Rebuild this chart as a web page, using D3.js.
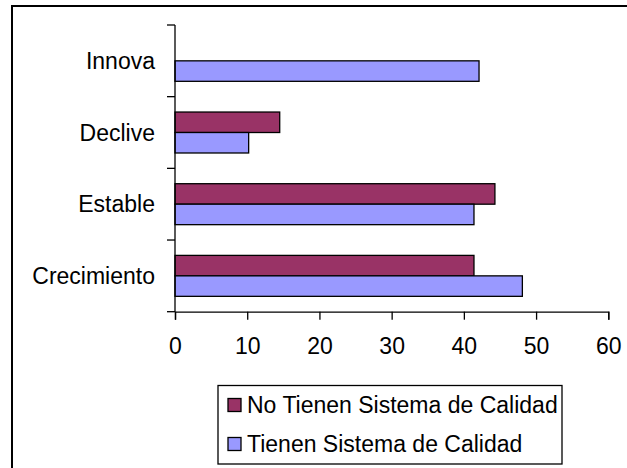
<!DOCTYPE html>
<html><head><meta charset="utf-8">
<script src="https://cdn.jsdelivr.net/npm/d3@7/dist/d3.min.js"></script>
<style>body{margin:0;background:#fff}svg{display:block}text{font-family:"Liberation Sans",Arial,sans-serif}</style>
</head><body>
<script>
const categories = ["Innova", "Declive", "Estable", "Crecimiento"];
const seriesNames = ["No Tienen Sistema de Calidad", "Tienen Sistema de Calidad"];
const noTienen = [0, 14.5, 44.3, 41.4];
const tienen = [42.1, 10.2, 41.4, 48.1];
const xTicks = [0, 10, 20, 30, 40, 50, 60];
const colors = ["#993366", "#9999FF"];

const W = 627, H = 468, FS = 23;
const svg = d3.select("body").append("svg").attr("width", W).attr("height", H);
svg.append("rect").attr("x", 12).attr("y", 6).attr("width", 640).attr("height", 480)
  .attr("fill", "#fff").attr("stroke", "#000").attr("stroke-width", 2);

const x = d3.scaleLinear().domain([0, 60]).range([175, 608.3]);
const y = d3.scaleBand().domain(categories).range([25, 311.7]).paddingInner(0.4286).paddingOuter(0.2143);
const inner = d3.scaleBand().domain([0, 1]).range([0, y.bandwidth()]);

const data = categories.map((c, i) => ({c, v: [noTienen[i], tienen[i]]}));
const g = svg.append("g");
data.forEach(d => {
  d.v.forEach((v, s) => {
    if (v <= 0) return;
    g.append("rect")
      .attr("x", x(0)).attr("y", y(d.c) + inner(s))
      .attr("width", x(v) - x(0)).attr("height", inner.bandwidth())
      .attr("fill", colors[s]).attr("stroke", "#000").attr("stroke-width", 1.3);
  });
});

// y axis
const yAxisG = svg.append("g");
yAxisG.append("line").attr("x1", x(0)).attr("x2", x(0)).attr("y1", 25).attr("y2", 311.7).attr("stroke", "#000").attr("stroke-width", 1.3);
const band = (311.7 - 25) / categories.length;
d3.range(categories.length + 1).forEach(i => {
  const yy = 25 + i * band;
  yAxisG.append("line").attr("x1", x(0) - 8).attr("x2", x(0)).attr("y1", yy).attr("y2", yy).attr("stroke", "#000").attr("stroke-width", 1.3);
});
categories.forEach((c, i) => {
  yAxisG.append("text").attr("x", 155).attr("y", 25 + band * (i + 0.5)).attr("dy", "0.35em")
    .attr("text-anchor", "end").attr("font-size", FS).text(c);
});

// x axis
const xAxis = d3.axisBottom(x).tickValues(xTicks).tickSize(8).tickPadding(18).tickFormat(d3.format("d"));
const xg = svg.append("g").attr("transform", "translate(0,311.7)").call(xAxis);
xg.select(".domain").attr("stroke", "#000").attr("stroke-width", 1.3);
xg.selectAll(".tick line").attr("stroke", "#000").attr("stroke-width", 1.3);
xg.selectAll(".tick text").attr("font-size", FS).attr("font-family", "Liberation Sans, Arial, sans-serif").attr("fill", "#000");

// legend
const lg = svg.append("g");
lg.append("rect").attr("x", 218).attr("y", 385.5).attr("width", 344).attr("height", 78.5)
  .attr("fill", "#fff").attr("stroke", "#000").attr("stroke-width", 1.3);
seriesNames.forEach((n, i) => {
  const cy = 405 + i * 39;
  lg.append("rect").attr("x", 228).attr("y", cy - 6.5).attr("width", 13).attr("height", 13)
    .attr("fill", colors[i]).attr("stroke", "#000").attr("stroke-width", 1.3);
  lg.append("text").attr("x", 247).attr("y", cy).attr("dy", "0.35em").attr("font-size", FS).text(n);
});
</script>
</body></html>
